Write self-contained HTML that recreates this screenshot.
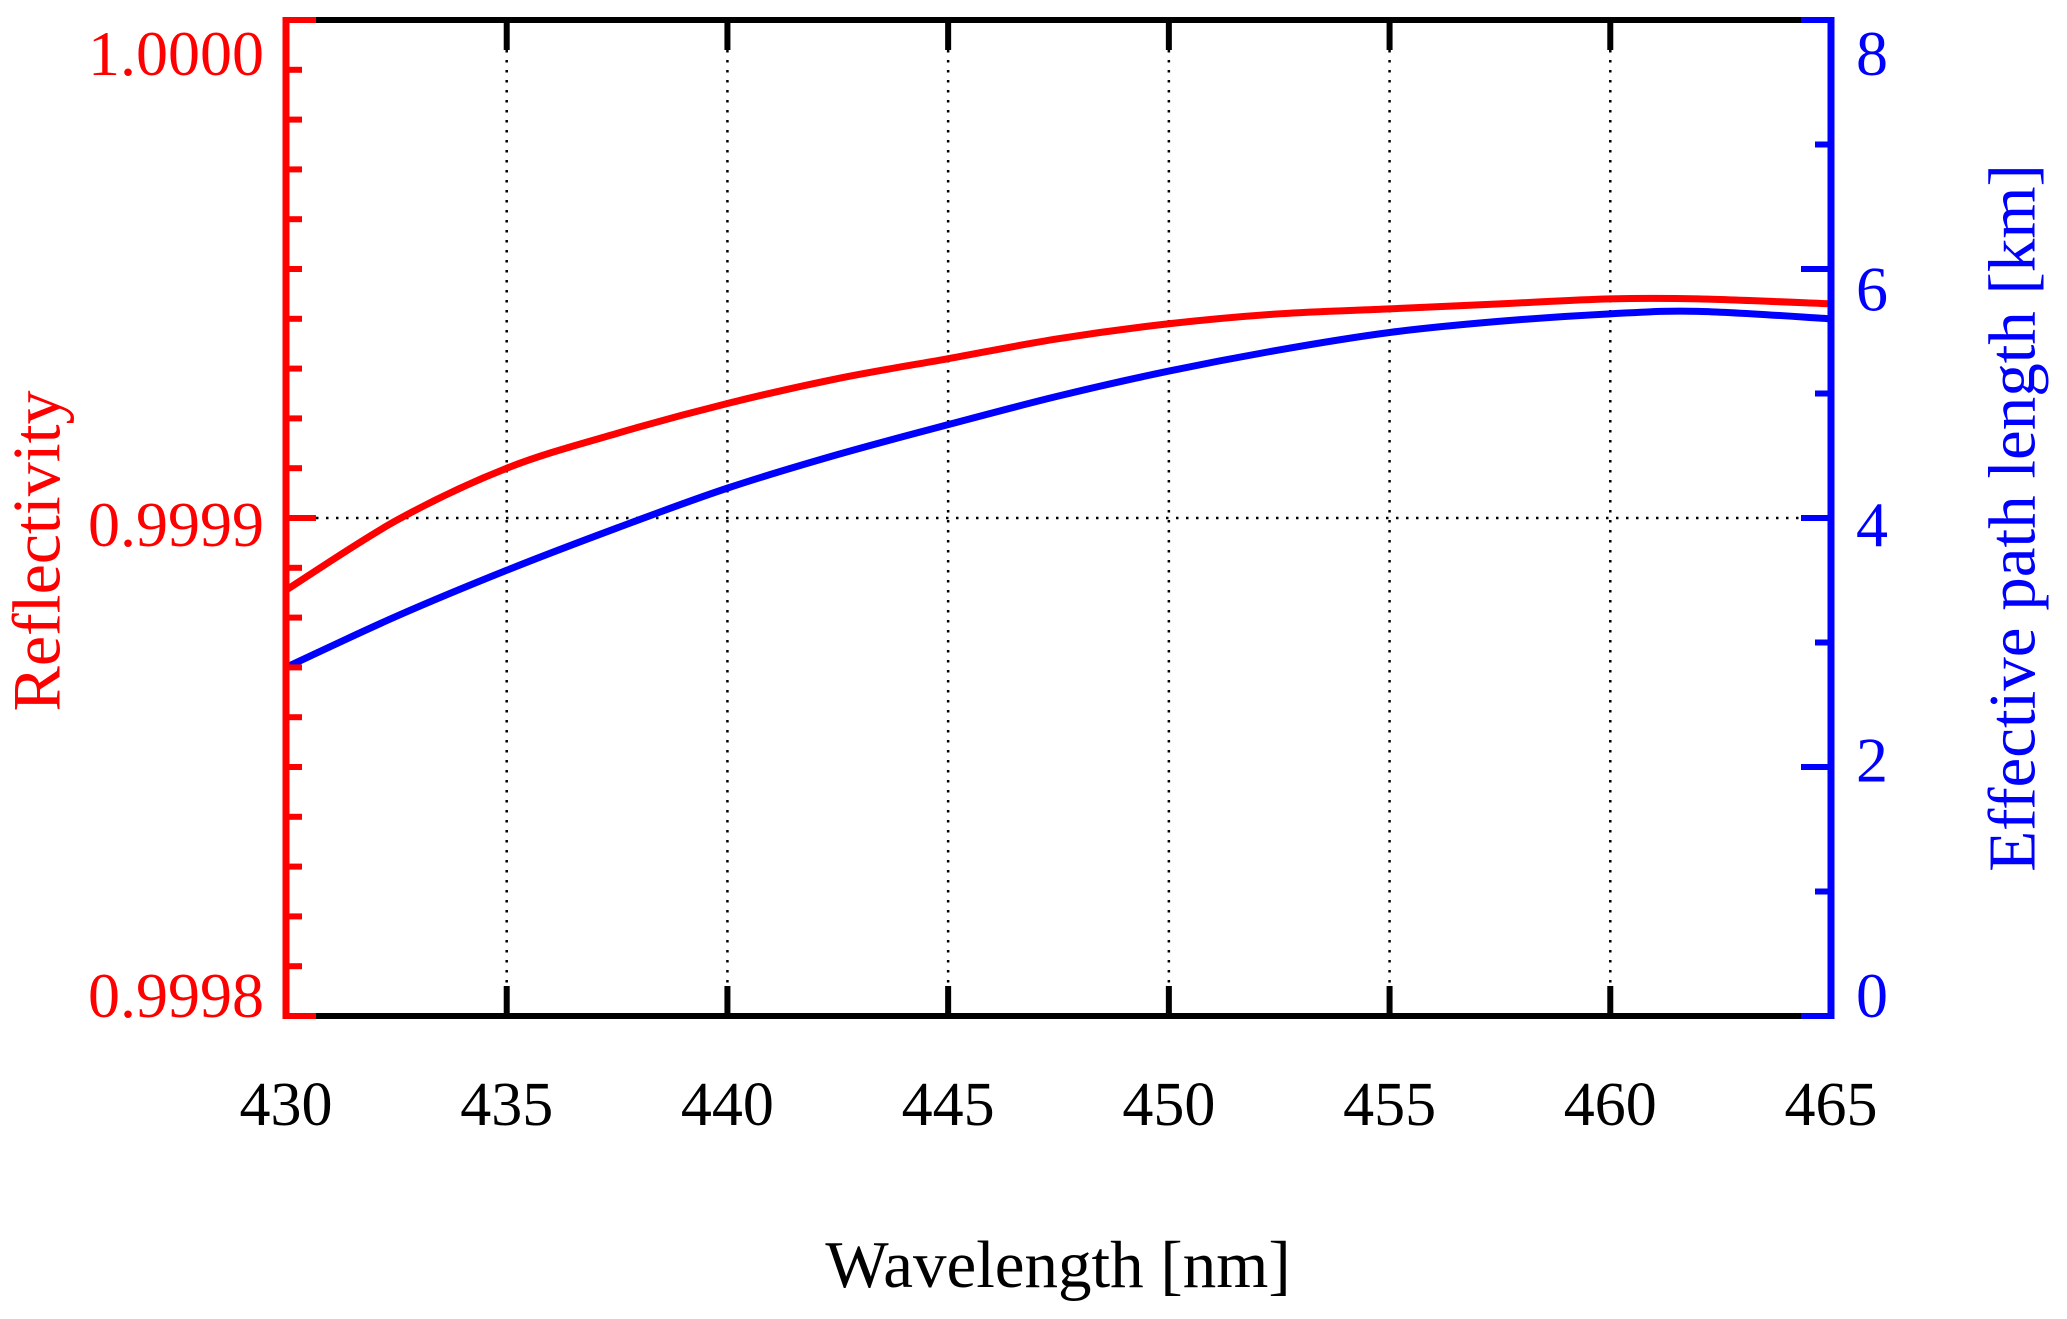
<!DOCTYPE html>
<html><head><meta charset="utf-8"><style>
html,body{margin:0;padding:0;background:#fff;}
svg{display:block;font-family:"Liberation Serif",serif;}
</style></head><body>
<svg id="chart" width="2067" height="1319" viewBox="0 0 2067 1319" xmlns="http://www.w3.org/2000/svg">
<g id="grid"></g>
<g id="series"></g>
<g id="axes"></g>
<text x="44" y="551" fill="#ff0000" font-size="68" text-anchor="middle" dominant-baseline="middle" transform="rotate(-90 44 551)">Reflectivity</text>
<text x="2019" y="518" fill="#0000ff" font-size="67" text-anchor="middle" dominant-baseline="middle" transform="rotate(-90 2019 518)">Effective path length [km]</text>
<text x="1058" y="1287" fill="#000" font-size="67" text-anchor="middle">Wavelength [nm]</text>
</svg>
<script>
const wavelengths = [430, 432.5, 435, 437.5, 440, 442.5, 445, 447.5, 450, 452.5, 455, 457.5, 460, 462, 465];
const reflectivity = [0.9998855, 0.9998995, 0.999910, 0.999917, 0.999923, 0.999928, 0.999932, 0.999936, 0.999939, 0.999941, 0.999942, 0.999943, 0.999944, 0.999944, 0.999943];
const pathLength = [2.80, 3.21, 3.58, 3.92, 4.24, 4.51, 4.75, 4.98, 5.18, 5.35, 5.49, 5.58, 5.64, 5.66, 5.60];
const xTicks = [430, 435, 440, 445, 450, 455, 460, 465];
const yLeftTickLabels = ["0.9998", "0.9999", "1.0000"];
const yLeftTicks = [0.9998, 0.9999, 1.0000];
const yRightTicks = [0, 2, 4, 6, 8];

const L = 286, R = 1831, T = 20, B = 1016;
const X = v => L + (v - 430) / 35 * (R - L);
const YL = v => B - (v - 0.9998) / 0.0002 * (B - T);
const YR = v => B - v / 8 * (B - T);
// label centres are compressed slightly inside the axis range
const labelY = frac => 995 - frac * (995 - 53) + 22;
const NS = "http://www.w3.org/2000/svg";
function mk(tag, attrs, parent, text) {
  const e = document.createElementNS(NS, tag);
  for (const k in attrs) e.setAttribute(k, attrs[k]);
  if (text !== undefined) e.textContent = text;
  parent.appendChild(e);
  return e;
}
const grid = document.getElementById('grid');
const axes = document.getElementById('axes');
const series = document.getElementById('series');

xTicks.slice(1, -1).forEach(t => {
  const g = mk('line', {x1: X(t), x2: X(t), y1: T, y2: B, stroke: '#000', 'stroke-width': 2.5, 'stroke-dasharray': '2.5 7.5'}, grid);
  
  
});
const hg = mk('line', {x1: L, x2: R, y1: YL(0.9999), y2: YL(0.9999), stroke: '#000', 'stroke-width': 2.5, 'stroke-dasharray': '2.5 7.5'}, grid);



function smoothPath(xs, ys) {
  const p = xs.map((x, i) => [x, ys[i]]);
  let d = `M${p[0][0]},${p[0][1]}`;
  for (let i = 0; i < p.length - 1; i++) {
    const p0 = p[Math.max(0, i - 1)], p1 = p[i], p2 = p[i + 1], p3 = p[Math.min(p.length - 1, i + 2)];
    const c1 = [p1[0] + (p2[0] - p0[0]) / 6, p1[1] + (p2[1] - p0[1]) / 6];
    const c2 = [p2[0] - (p3[0] - p1[0]) / 6, p2[1] - (p3[1] - p1[1]) / 6];
    d += ` C${c1[0]},${c1[1]} ${c2[0]},${c2[1]} ${p2[0]},${p2[1]}`;
  }
  return d;
}
const xs = wavelengths.map(X);
const rl = mk('path', {d: smoothPath(xs, reflectivity.map(YL)), fill: 'none', stroke: '#ff0000', 'stroke-width': 7}, series);


const bl = mk('path', {d: smoothPath(xs, pathLength.map(YR)), fill: 'none', stroke: '#0000ff', 'stroke-width': 7}, series);



mk('line', {x1: L, x2: R, y1: T, y2: T, stroke: '#000', 'stroke-width': 6}, axes);
mk('line', {x1: L, x2: R, y1: B, y2: B, stroke: '#000', 'stroke-width': 6}, axes);
mk('line', {x1: L, x2: L + 30, y1: T, y2: T, stroke: '#ff0000', 'stroke-width': 6}, axes);
mk('line', {x1: L, x2: L + 30, y1: B, y2: B, stroke: '#ff0000', 'stroke-width': 6}, axes);
mk('line', {x1: R - 30, x2: R, y1: T, y2: T, stroke: '#0000ff', 'stroke-width': 6}, axes);
mk('line', {x1: R - 30, x2: R, y1: B, y2: B, stroke: '#0000ff', 'stroke-width': 6}, axes);
mk('line', {x1: L, x2: L, y1: T - 3, y2: B + 3, stroke: '#ff0000', 'stroke-width': 7}, axes);
mk('line', {x1: R, x2: R, y1: T - 3, y2: B + 3, stroke: '#0000ff', 'stroke-width': 7}, axes);

xTicks.forEach(t => {
  if (t !== 430 && t !== 465) {
    mk('line', {x1: X(t), x2: X(t), y1: T, y2: T + 30, stroke: '#000', 'stroke-width': 6}, axes);
    mk('line', {x1: X(t), x2: X(t), y1: B, y2: B - 30, stroke: '#000', 'stroke-width': 6}, axes);
  }
  const lb = mk('text', {x: X(t), y: 1125, 'font-size': 62, 'text-anchor': 'middle', fill: '#000'}, axes, String(t));
  
  
});
for (let i = 1; i < 20; i++) {
  const v = 0.9998 + i * 0.00001;
  const len = (i === 10) ? 30 : 16;
  mk('line', {x1: L, x2: L + len, y1: YL(v), y2: YL(v), stroke: '#ff0000', 'stroke-width': 6}, axes);
}
yLeftTicks.forEach((v, i) => {
  const lb = mk('text', {x: 264, y: labelY((v - 0.9998) / 0.0002), 'font-size': 64, 'text-anchor': 'end', fill: '#ff0000'}, axes, yLeftTickLabels[i]);
  
  
});
for (let v = 1; v < 8; v++) {
  const len = (v % 2 === 0) ? 30 : 16;
  mk('line', {x1: R - len, x2: R, y1: YR(v), y2: YR(v), stroke: '#0000ff', 'stroke-width': 6}, axes);
}
yRightTicks.forEach(v => {
  const lb = mk('text', {x: 1856, y: labelY(v / 8), 'font-size': 64, 'text-anchor': 'start', fill: '#0000ff'}, axes, String(v));
  
  
});
</script>
</body></html>
